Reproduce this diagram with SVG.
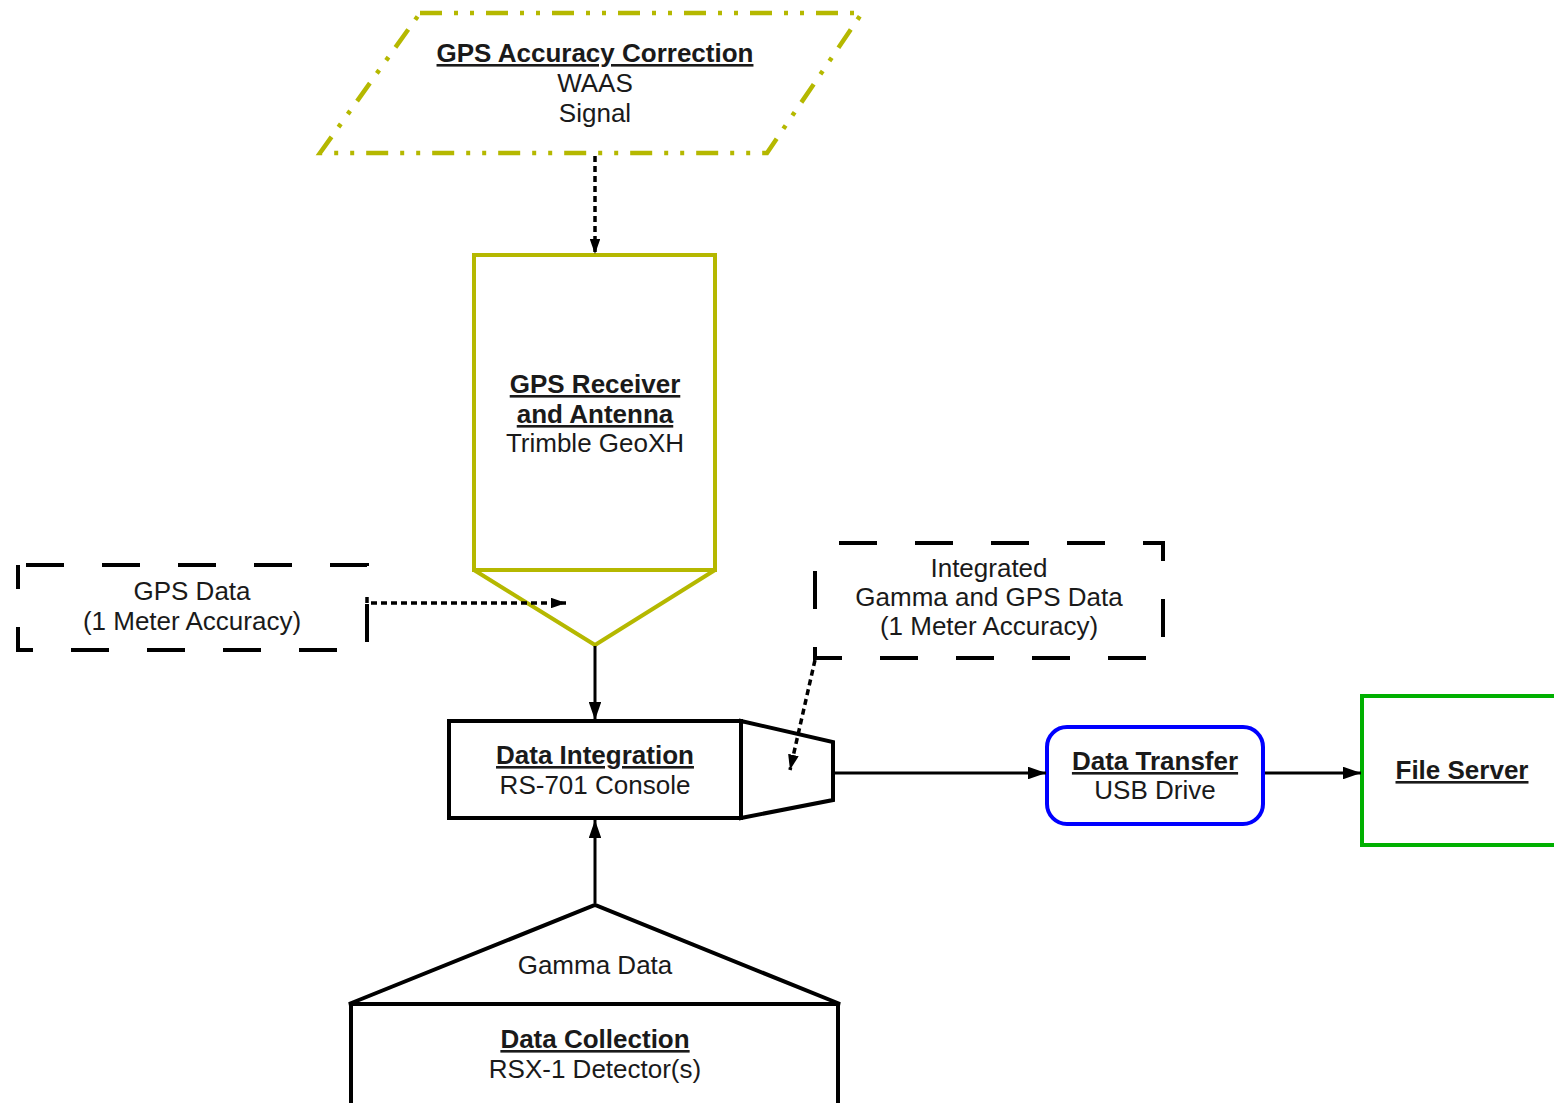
<svg xmlns="http://www.w3.org/2000/svg" width="1554" height="1103" viewBox="0 0 1554 1103">
  <style>
    text { font-family: "Liberation Sans", Arial, sans-serif; font-size: 26px; fill: #1a1a1a; text-anchor: middle; }
    .t { font-weight: bold; text-decoration: underline; }
    .box { fill: #ffffff; stroke: #000000; stroke-width: 4; stroke-linejoin: miter; }
    .olive { fill: #ffffff; stroke: #b5b800; stroke-width: 4; }
    .dash { fill: none; stroke: #000000; stroke-width: 4; stroke-dasharray: 38 38; }
    .solid { fill: none; stroke: #000000; stroke-width: 3; }
    .dotted { fill: none; stroke: #000000; stroke-width: 3.5; stroke-dasharray: 6 4; }
  </style>
  <defs>
    <marker id="arr" viewBox="0 0 10 7" refX="10" refY="3.5" markerWidth="6" markerHeight="4.2" markerUnits="strokeWidth" orient="auto">
      <path d="M0,0 L10,3.5 L0,7 z" fill="#000000"/>
    </marker>
    <marker id="arrd" viewBox="0 0 10 7" refX="10" refY="3.5" markerWidth="4.4" markerHeight="3.1" markerUnits="strokeWidth" orient="auto">
      <path d="M0,0 L10,3.5 L0,7 z" fill="#000000"/>
    </marker>
  </defs>
  <rect width="1554" height="1103" fill="#ffffff"/>

  <g id="gps-correction">
    <polygon points="420,13 862,13 767,153 320,153" fill="#ffffff" stroke="#b5b800" stroke-width="4.5" stroke-dasharray="22 12 4 12 4 12"/>
    <text class="t" x="595" y="62">GPS Accuracy Correction</text>
    <text x="595" y="92">WAAS</text>
    <text x="595" y="122">Signal</text>
  </g>

  <g id="gps-receiver">
    <rect class="olive" x="474" y="255" width="241" height="315"/>
    <polygon class="olive" points="474,570 715,570 595,645" stroke-linejoin="bevel"/>
    <text class="t" x="595" y="393">GPS Receiver</text>
    <text class="t" x="595" y="423">and Antenna</text>
    <text x="595" y="452">Trimble GeoXH</text>
  </g>

  <g id="gps-data">
    <rect class="dash" x="18" y="565" width="349" height="85" stroke-dashoffset="-8"/>
    <text x="192" y="600">GPS Data</text>
    <text x="192" y="630">(1 Meter Accuracy)</text>
  </g>

  <g id="integrated-data">
    <rect class="dash" x="815" y="543" width="348" height="115" stroke-dashoffset="-24"/>
    <text x="989" y="577">Integrated</text>
    <text x="989" y="606">Gamma and GPS Data</text>
    <text x="989" y="635">(1 Meter Accuracy)</text>
  </g>

  <g id="data-integration">
    <rect class="box" x="449" y="721" width="292" height="97"/>
    <polygon class="box" points="741,721 833,742 833,800 741,818"/>
    <text class="t" x="595" y="764">Data Integration</text>
    <text x="595" y="794">RS-701 Console</text>
  </g>

  <g id="data-transfer">
    <rect x="1047" y="727" width="216" height="97" rx="20" ry="20" fill="#ffffff" stroke="#0000ff" stroke-width="4"/>
    <text class="t" x="1155" y="770">Data Transfer</text>
    <text x="1155" y="799">USB Drive</text>
  </g>

  <g id="file-server">
    <rect x="1362" y="696" width="200" height="149" fill="#ffffff" stroke="#00b000" stroke-width="4"/>
    <text class="t" x="1462" y="779">File Server</text>
  </g>

  <g id="data-collection">
    <polygon class="box" points="349,1004 595,905 840,1004" stroke-linejoin="bevel"/>
    <rect class="box" x="351" y="1004" width="487" height="105"/>
    <text x="595" y="974">Gamma Data</text>
    <text class="t" x="595" y="1048">Data Collection</text>
    <text x="595" y="1078">RSX-1 Detector(s)</text>
  </g>

  <g id="connectors">
    <line class="dotted" x1="595" y1="156" x2="595" y2="254" marker-end="url(#arrd)"/>
    <polyline class="dotted" points="367,597 367,603 566,603" marker-end="url(#arrd)"/>
    <line class="solid" x1="595" y1="646" x2="595" y2="720" marker-end="url(#arr)"/>
    <line class="dotted" x1="815" y1="660" x2="790" y2="770" marker-end="url(#arrd)"/>
    <line class="solid" x1="835" y1="773" x2="1046" y2="773" marker-end="url(#arr)"/>
    <line class="solid" x1="1265" y1="773" x2="1361" y2="773" marker-end="url(#arr)"/>
    <line class="solid" x1="595" y1="903" x2="595" y2="820" marker-end="url(#arr)"/>
  </g>
</svg>
